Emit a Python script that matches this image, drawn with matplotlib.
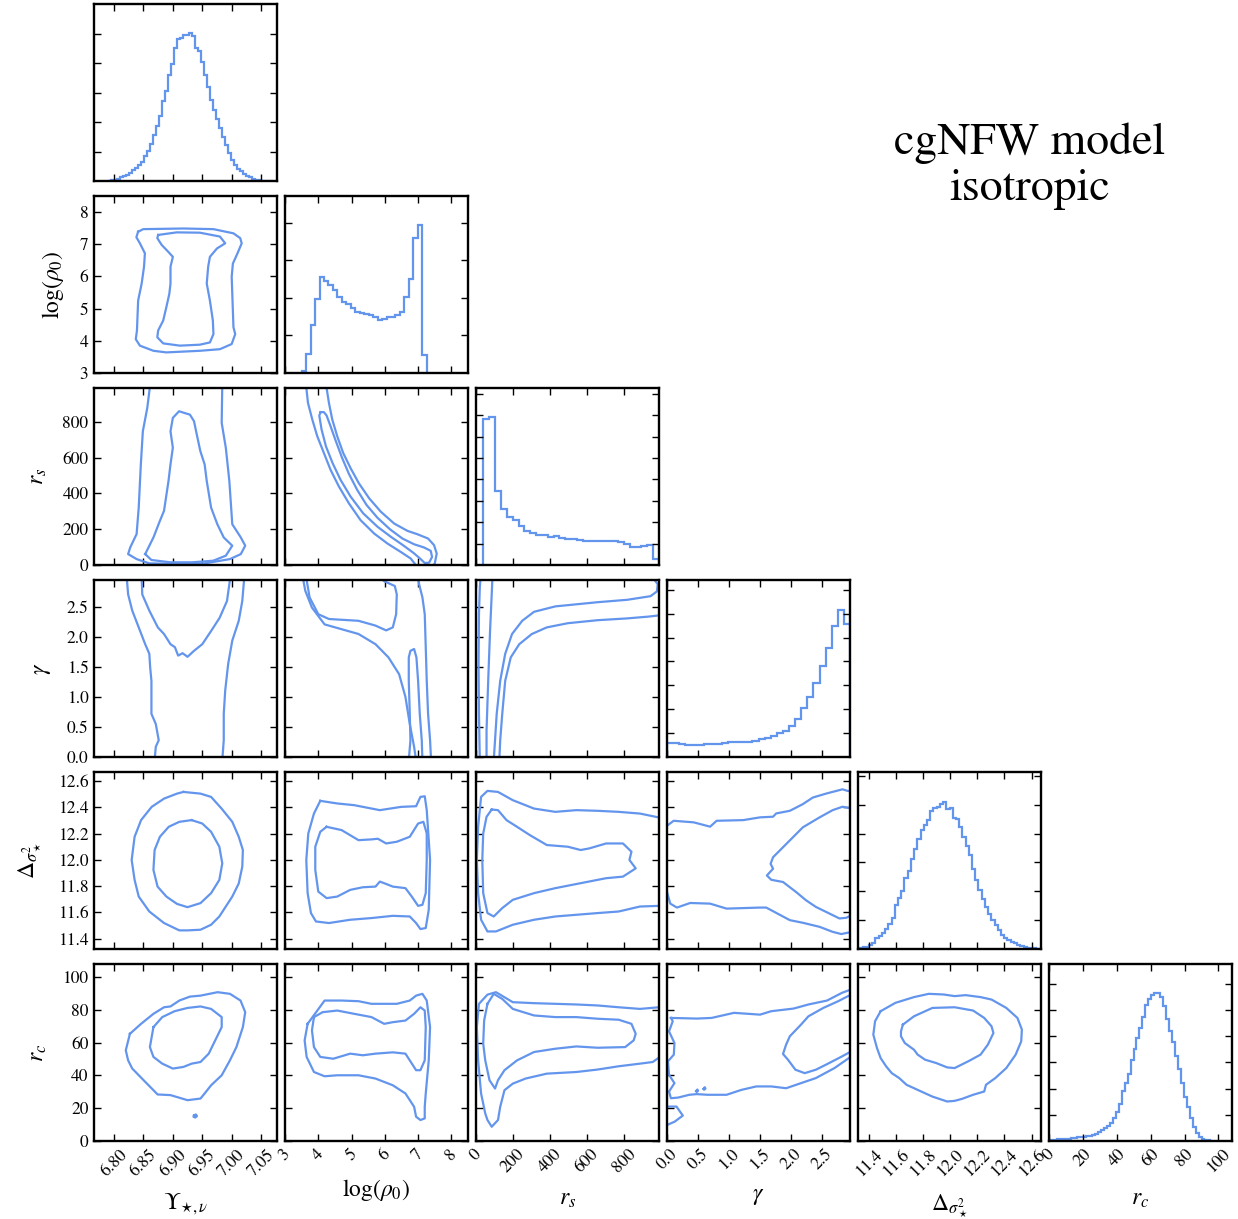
import numpy as np
import matplotlib
matplotlib.use("Agg")
import matplotlib.pyplot as plt

plt.rcParams['font.family'] = ['STIXGeneral', 'DejaVu Serif']
plt.rcParams['mathtext.fontset'] = 'stix'

# parameter names, ranges and ticks
labels = [r'$\Upsilon_{\star,\nu}$', r'$\log(\rho_0)$', r'$r_s$', r'$\gamma$',
          r'$\Delta_{\sigma_\star^2}$', r'$r_c$']
limits = [(6.766, 7.077), (3.0, 8.5), (0.0, 990.0), (0.0, 2.95), (11.32, 12.67), (0.0, 108.0)]
ticks = [[6.80, 6.85, 6.90, 6.95, 7.00, 7.05],
         [3, 4, 5, 6, 7, 8],
         [0, 200, 400, 600, 800],
         [0.0, 0.5, 1.0, 1.5, 2.0, 2.5],
         [11.4, 11.6, 11.8, 12.0, 12.2, 12.4, 12.6],
         [0, 20, 40, 60, 80, 100]]
tick_text = [['6.80', '6.85', '6.90', '6.95', '7.00', '7.05'],
             ['3', '4', '5', '6', '7', '8'],
             ['0', '200', '400', '600', '800'],
             ['0.0', '0.5', '1.0', '1.5', '2.0', '2.5'],
             ['11.4', '11.6', '11.8', '12.0', '12.2', '12.4', '12.6'],
             ['0', '20', '40', '60', '80', '100']]

# 1D marginals (relative heights) and their bin ranges
hist_ups = [0.002, 0.004, 0.008, 0.013, 0.02, 0.027, 0.036, 0.048, 0.06, 0.073,
            0.093, 0.11, 0.14, 0.17, 0.21, 0.26, 0.31, 0.37, 0.45, 0.51,
            0.60, 0.66, 0.75, 0.80, 0.81, 0.825, 0.826, 0.838, 0.82, 0.75,
            0.735, 0.67, 0.60, 0.53, 0.46, 0.40, 0.35, 0.30, 0.25, 0.205,
            0.16, 0.12, 0.09, 0.07, 0.055, 0.04, 0.03, 0.02, 0.013, 0.008,
            0.004, 0.002, 0.001, 0.0005, 0.0]
hist_rho = [0.01, 0.11, 0.27, 0.42, 0.54, 0.52, 0.50, 0.47, 0.43, 0.40,
            0.39, 0.37, 0.345, 0.34, 0.333, 0.328, 0.317, 0.298, 0.306, 0.315,
            0.315, 0.326, 0.345, 0.43, 0.53, 0.765, 0.838, 0.10]
hist_rs = [0.826, 0.835, 0.418, 0.319, 0.272, 0.253, 0.221, 0.193, 0.178, 0.171,
           0.171, 0.156, 0.163, 0.152, 0.148, 0.148, 0.141, 0.137, 0.137, 0.133,
           0.133, 0.133, 0.133, 0.129, 0.118, 0.103, 0.099, 0.107, 0.111, 0.034]
hist_gamma = [0.079, 0.079, 0.075, 0.068, 0.068, 0.068, 0.071, 0.071, 0.075, 0.079,
              0.083, 0.086, 0.086, 0.086, 0.090, 0.101, 0.105, 0.117, 0.135, 0.147,
              0.177, 0.214, 0.278, 0.338, 0.417, 0.513, 0.615, 0.741, 0.833, 0.752]
hist_delta = [0.007, 0.01, 0.014, 0.022, 0.033, 0.06, 0.074, 0.088, 0.115, 0.142,
              0.177, 0.25, 0.29, 0.33, 0.40, 0.44, 0.51, 0.565, 0.62, 0.675,
              0.70, 0.73, 0.78, 0.795, 0.805, 0.82, 0.833, 0.79, 0.796, 0.742,
              0.733, 0.69, 0.63, 0.58, 0.53, 0.45, 0.39, 0.335, 0.28, 0.235,
              0.20, 0.163, 0.135, 0.108, 0.08, 0.062, 0.052, 0.042, 0.034, 0.024,
              0.017, 0.012, 0.008, 0.006, 0.004, 0.002]
hist_rc = [0.007, 0.008, 0.009, 0.009, 0.01, 0.012, 0.013, 0.015, 0.017, 0.02,
           0.022, 0.025, 0.028, 0.031, 0.036, 0.042, 0.05, 0.06, 0.071, 0.085,
           0.10, 0.13, 0.165, 0.21, 0.28, 0.33, 0.38, 0.46, 0.52, 0.58,
           0.64, 0.70, 0.77, 0.80, 0.825, 0.835, 0.838, 0.815, 0.76, 0.69,
           0.62, 0.56, 0.48, 0.405, 0.33, 0.25, 0.19, 0.13, 0.08, 0.045,
           0.022, 0.01, 0.006, 0.003, 0.002]
hists = [hist_ups, hist_rho, hist_rs, hist_gamma, hist_delta, hist_rc]
hist_range = [(6.79, 7.07), (3.5, 7.26), (40.0, 990.0), (0.0, 2.95), (11.33, 12.66), (1.0, 97.0)]
hist_tick_step = [0.166, 0.2125, 0.1208, 0.135, 0.163, 0.148]
hist_tick_count = [5, 4, 8, 7, 6, 6]

# 2D credible contours (outer, inner), in data units
rho_ups_outer = [(6.841, 7.39), (6.8497, 7.47), (6.918, 7.49), (6.969, 7.47), (7.003, 7.34),
                 (7.0145, 7.19), (7.017, 7.03), (7.0099, 6.72), (7.002, 6.40), (7.000, 5.99),
                 (7.0014, 5.25), (7.003, 4.42), (7.006, 4.21), (7.000, 3.90), (6.980, 3.74),
                 (6.946, 3.69), (6.889, 3.64), (6.867, 3.69), (6.844, 3.85), (6.837, 4.05),
                 (6.839, 4.32), (6.841, 5.25), (6.847, 5.78), (6.851, 6.30), (6.8525, 6.72),
                 (6.844, 7.03), (6.838, 7.22), (6.841, 7.39)]
rho_ups_inner = [(6.875, 7.29), (6.9066, 7.37), (6.946, 7.36), (6.980, 7.24), (6.989, 7.03),
                 (6.975, 6.87), (6.963, 6.61), (6.960, 6.30), (6.9576, 5.78), (6.963, 5.25),
                 (6.968, 4.63), (6.969, 4.21), (6.963, 3.95), (6.946, 3.88), (6.912, 3.85),
                 (6.8836, 3.92), (6.8736, 4.11), (6.875, 4.32), (6.8836, 4.63), (6.889, 5.05),
                 (6.894, 5.46), (6.896, 5.78), (6.896, 6.30), (6.900, 6.61), (6.892, 6.77),
                 (6.881, 6.98), (6.8736, 7.19), (6.875, 7.29)]

rs_ups_outer = [(6.8615, 1010), (6.8565, 878), (6.849, 748), (6.8456, 563), (6.842, 321),
                (6.8384, 173), (6.8275, 98), (6.824, 61), (6.8384, 33), (6.860, 9),
                (6.9106, 6), (6.954, 9), (6.997, 33), (7.0155, 61), (7.023, 108),
                (7.0155, 154), (7.001, 228), (6.996, 470), (6.990, 656), (6.983, 795),
                (6.984, 1010)]
rs_ups_inner = [(6.853, 61), (6.867, 154), (6.878, 247), (6.885, 303), (6.8926, 470),
                (6.896, 563), (6.900, 656), (6.896, 748), (6.900, 823), (6.9106, 860),
                (6.919, 851), (6.929, 841), (6.936, 804), (6.9395, 748), (6.9467, 637),
                (6.954, 563), (6.9576, 470), (6.965, 321), (6.9756, 228), (6.9865, 154),
                (7.001, 108), (6.990, 52), (6.9685, 24), (6.9324, 15), (6.896, 15),
                (6.8636, 28), (6.853, 61)]

rs_rho_outer = [(3.63, 1011), (3.69, 907), (3.82, 814), (3.97, 720), (4.17, 626),
                (4.37, 532), (4.62, 439), (4.92, 345), (5.27, 251), (5.68, 176),
                (6.08, 120), (6.48, 73), (6.78, 36), (6.93, 0), (6.98, -21),
                (7.28, -30), (7.50, 7.5), (7.56, 64), (7.48, 111), (7.30, 148),
                (6.98, 172), (6.68, 191), (6.28, 232), (5.88, 298), (5.53, 373),
                (5.22, 457), (4.97, 542), (4.75, 626), (4.57, 720), (4.42, 814),
                (4.32, 907), (4.25, 990), (4.24, 1011)]
rs_rho_inner = [(4.07, 855), (4.03, 836), (4.10, 757), (4.23, 664), (4.43, 570),
                (4.67, 476), (4.97, 383), (5.35, 289), (5.78, 214), (6.18, 158),
                (6.56, 109), (6.86, 68), (7.06, 36), (7.20, 11), (7.33, 13),
                (7.42, 45), (7.38, 79), (7.18, 98), (6.88, 116), (6.53, 148),
                (6.16, 199), (5.78, 264), (5.45, 336), (5.17, 420), (4.92, 510),
                (4.71, 602), (4.53, 692), (4.37, 776), (4.25, 836), (4.17, 855),
                (4.07, 855)]

gam_ups_outer = [(6.821, 3.005), (6.822, 2.95), (6.824, 2.71), (6.831, 2.44), (6.842, 2.16),
                 (6.853, 1.88), (6.860, 1.72), (6.8615, 1.49), (6.8636, 1.27), (6.8636, 0.72),
                 (6.871, 0.55), (6.876, 0.28), (6.871, 0.17), (6.869, -0.055),
                 (6.984, -0.055), (6.9865, 0.28), (6.9865, 0.72), (6.989, 1.11), (6.994, 1.55),
                 (7.001, 1.94), (7.012, 2.27), (7.018, 2.60), (7.021, 2.95), (7.021, 3.005)]
gam_ups_inner = [(6.847, 3.005), (6.848, 2.71), (6.860, 2.44), (6.8745, 2.16), (6.885, 2.05),
                 (6.896, 1.88), (6.9035, 1.83), (6.909, 1.69), (6.9165, 1.73), (6.925, 1.67),
                 (6.936, 1.77), (6.950, 1.88), (6.965, 2.10), (6.9795, 2.32), (6.992, 2.60),
                 (6.997, 2.95), (6.997, 3.005)]

gam_rho_outer = [(3.54, 3.005), (3.55, 2.95), (3.61, 2.77), (3.81, 2.49), (4.19, 2.21),
                 (4.70, 2.13), (5.21, 2.05), (5.72, 1.88), (6.11, 1.66), (6.43, 1.38),
                 (6.62, 1.00), (6.75, 0.55), (6.88, 0.17), (6.94, -0.055),
                 (7.39, -0.055), (7.36, 0.28), (7.30, 0.72), (7.26, 1.27), (7.23, 1.83),
                 (7.20, 2.38), (7.13, 2.66), (7.03, 2.88), (7.00, 3.005)]
gam_rho_inner_top = [(3.63, 3.005), (3.65, 2.95), (3.74, 2.66), (4.00, 2.38), (4.32, 2.30),
                     (5.21, 2.27), (5.72, 2.19), (6.04, 2.11), (6.24, 2.16), (6.34, 2.38),
                     (6.36, 2.71), (6.30, 2.85), (5.98, 2.93), (5.85, 3.005)]
gam_rho_inner_low = [(6.72, -0.055), (6.77, 0.28), (6.75, 0.72), (6.72, 1.27), (6.72, 1.66),
                     (6.77, 1.77), (6.88, 1.80), (6.95, 1.66), (7.00, 1.27), (7.05, 0.72),
                     (7.11, 0.28), (7.13, -0.055)]

gam_rs_outer = [(20.6, -0.055), (16.0, 0.72), (13.8, 1.55), (16.0, 2.38), (20.6, 2.82),
                (25.2, 3.005), (1024, 3.005), (1024, 2.35), (990, 2.36), (933, 2.34),
                (818, 2.31), (658, 2.28), (497, 2.23), (383, 2.16), (302, 2.05),
                (234, 1.88), (188, 1.66), (158, 1.27), (142, 0.72), (131, 0.28), (126, -0.055)]
gam_rs_inner = [(57, -0.055), (57, 0.44), (66, 1.27), (76, 2.10), (85, 2.71), (89, 3.005),
                (956, 2.99), (983, 2.88), (979, 2.76), (944, 2.68), (818, 2.62),
                (658, 2.58), (429, 2.51), (314, 2.42), (250, 2.27), (195, 2.05),
                (158, 1.72), (131, 1.27), (112, 0.72), (103, 0.28), (96, -0.055)]

del_ups_outer = [(6.918, 12.518), (6.947, 12.505), (6.965, 12.48), (6.983, 12.39), (7.001, 12.29),
                 (7.012, 12.176), (7.019, 12.075), (7.018, 11.948), (7.012, 11.82), (7.001, 11.72),
                 (6.990, 11.644), (6.979, 11.568), (6.965, 11.505), (6.947, 11.467), (6.925, 11.462),
                 (6.911, 11.462), (6.885, 11.518), (6.860, 11.606), (6.842, 11.72), (6.835, 11.847),
                 (6.830, 11.999), (6.835, 12.176), (6.846, 12.303), (6.864, 12.404), (6.885, 12.467),
                 (6.907, 12.505), (6.918, 12.518)]
del_ups_inner = [(6.932, 12.303), (6.950, 12.277), (6.965, 12.214), (6.979, 12.10), (6.984, 11.973),
                 (6.979, 11.847), (6.965, 11.746), (6.947, 11.67), (6.925, 11.639), (6.907, 11.664),
                 (6.889, 11.72), (6.874, 11.796), (6.867, 11.923), (6.869, 12.075), (6.878, 12.176),
                 (6.893, 12.252), (6.911, 12.29), (6.932, 12.303)]

del_rho_outer = [(4.06, 12.45), (4.57, 12.43), (5.08, 12.417), (5.85, 12.379), (6.49, 12.404),
                 (6.94, 12.409), (7.07, 12.48), (7.20, 12.485), (7.26, 12.379), (7.36, 11.999),
                 (7.32, 11.619), (7.23, 11.48), (7.07, 11.472), (6.94, 11.518), (6.75, 11.568),
                 (6.24, 11.573), (5.60, 11.556), (4.96, 11.543), (4.32, 11.518), (3.93, 11.53),
                 (3.78, 11.594), (3.68, 11.746), (3.64, 11.999), (3.70, 12.201), (3.87, 12.353),
                 (4.06, 12.45)]
del_rho_inner = [(4.25, 12.252), (4.70, 12.227), (5.21, 12.15), (5.60, 12.156), (5.79, 12.161),
                 (6.04, 12.125), (6.36, 12.138), (6.75, 12.176), (7.00, 12.277), (7.16, 12.29),
                 (7.26, 12.201), (7.26, 11.999), (7.23, 11.746), (7.13, 11.657), (7.00, 11.649),
                 (6.81, 11.72), (6.62, 11.784), (6.24, 11.796), (5.98, 11.822), (5.85, 11.834),
                 (5.72, 11.796), (5.34, 11.791), (4.96, 11.771), (4.57, 11.72), (4.25, 11.708),
                 (4.00, 11.758), (3.91, 11.923), (3.91, 12.10), (4.06, 12.214), (4.25, 12.252)]

del_rs_outer = [(1013, 12.323), (990, 12.323), (887, 12.353), (772, 12.366), (658, 12.374),
                (543, 12.379), (429, 12.366), (314, 12.391), (199, 12.455), (119, 12.518),
                (62, 12.526), (27.5, 12.48), (11.5, 12.252), (4.6, 11.999), (11.5, 11.746),
                (27.5, 11.543), (62, 11.454), (108, 11.454), (199, 11.505), (314, 11.543),
                (429, 11.568), (543, 11.581), (658, 11.594), (772, 11.606), (887, 11.644),
                (990, 11.649), (1013, 11.649)]
del_rs_inner = [(85, 12.384), (119, 12.379), (165, 12.303), (222, 12.252), (291, 12.189),
                (383, 12.113), (497, 12.10), (566, 12.075), (612, 12.087), (704, 12.125),
                (795, 12.125), (841, 12.062), (830, 11.999), (864, 11.935), (795, 11.872),
                (704, 11.86), (566, 11.822), (429, 11.784), (314, 11.746), (199, 11.695),
                (142, 11.632), (96, 11.568), (62, 11.594), (39, 11.746), (34, 11.999),
                (39, 12.201), (57, 12.328), (85, 12.384)]

del_gam_outer = [(-0.053, 12.26), (0, 12.26), (0.107, 12.298), (0.43, 12.286), (0.695, 12.253),
                 (0.80, 12.298), (1.23, 12.303), (1.50, 12.324), (1.71, 12.329), (1.76, 12.354),
                 (1.98, 12.374), (2.19, 12.425), (2.35, 12.475), (2.57, 12.506), (2.83, 12.538),
                 (2.91, 12.526), (3.02, 12.52), (3.02, 11.451), (2.91, 11.444), (2.81, 11.434),
                 (2.67, 11.451), (2.46, 11.489), (2.19, 11.52), (1.98, 11.54), (1.60, 11.636),
                 (1.50, 11.636), (0.96, 11.628), (0.695, 11.666), (0.374, 11.671), (0.16, 11.636),
                 (0.053, 11.666), (0, 11.755), (-0.053, 11.767)]
del_gam_inner = [(3.02, 12.387), (2.83, 12.405), (2.67, 12.379), (2.46, 12.324), (2.19, 12.248),
                 (2.03, 12.172), (1.87, 12.096), (1.71, 12.02), (1.67, 11.97), (1.71, 11.932),
                 (1.61, 11.881), (1.68, 11.848), (1.87, 11.831), (2.08, 11.755), (2.24, 11.692),
                 (2.40, 11.641), (2.62, 11.59), (2.78, 11.553), (2.89, 11.558), (3.02, 11.59)]

rc_ups_outer = [(6.827, 65.4), (6.846, 71.5), (6.867, 77.6), (6.885, 81.6), (6.896, 82.1),
                (6.911, 85.7), (6.929, 88.1), (6.947, 88.7), (6.976, 90.8), (6.997, 89.8),
                (7.015, 85.7), (7.023, 78.6), (7.019, 69.5), (7.008, 57.3), (6.997, 49.2),
                (6.983, 40.1), (6.965, 34.0), (6.954, 29.0), (6.947, 25.9), (6.925, 24.9),
                (6.896, 28.0), (6.874, 28.4), (6.867, 31.0), (6.853, 36.1), (6.831, 44.2),
                (6.824, 49.2), (6.820, 55.3), (6.827, 65.4)]
rc_ups_inner = [(6.867, 69.5), (6.882, 75.6), (6.903, 79.2), (6.925, 81.2), (6.947, 82.1),
                (6.965, 80.6), (6.983, 75.6), (6.983, 69.5), (6.972, 61.4), (6.961, 53.3),
                (6.947, 48.2), (6.932, 47.2), (6.918, 45.2), (6.900, 44.2), (6.882, 47.2),
                (6.867, 51.3), (6.861, 57.3), (6.864, 63.4), (6.867, 69.5)]
rc_ups_dot = [(6.936, 15.6), (6.939, 16.2), (6.941, 15.2), (6.938, 14.3), (6.935, 14.8), (6.936, 15.6)]

rc_rho_outer = [(3.68, 71.5), (4.19, 85.7), (4.70, 85.7), (5.21, 85.3), (5.60, 83.7),
                (6.36, 83.7), (6.75, 85.7), (6.94, 88.7), (7.13, 89.8), (7.26, 85.7),
                (7.36, 69.5), (7.32, 49.2), (7.23, 29.0), (7.20, 20.9), (7.20, 13.8),
                (7.07, 12.8), (6.94, 14.8), (6.88, 20.9), (6.62, 29.0), (6.24, 34.0),
                (5.72, 38.1), (5.21, 40.1), (4.57, 40.1), (4.19, 39.5), (3.87, 42.1),
                (3.65, 51.3), (3.59, 61.4), (3.68, 71.5)]
rc_rho_inner = [(3.87, 75.6), (4.13, 78.6), (4.57, 79.6), (5.08, 77.6), (5.60, 75.6),
                (5.98, 71.5), (6.24, 72.5), (6.62, 73.5), (6.88, 77.6), (7.07, 81.6),
                (7.20, 79.6), (7.23, 69.5), (7.20, 49.2), (7.07, 43.2), (6.94, 43.2),
                (6.75, 49.2), (6.62, 53.3), (6.24, 54.1), (5.72, 53.3), (5.34, 52.3),
                (4.96, 53.3), (4.45, 50.2), (4.06, 51.3), (3.87, 57.3), (3.81, 67.5),
                (3.87, 75.6)]

rc_rs_outer = [(1013, 81.6), (990, 81.6), (887, 80.6), (772, 81.6), (658, 82.7),
               (543, 83.3), (429, 83.7), (314, 84.1), (199, 84.7), (108, 90.8),
               (62, 89.3), (16, 83.7), (4.6, 69.5), (11.5, 49.2), (27.5, 29.0),
               (50, 16.8), (62, 12.8), (85, 8.7), (119, 12.8), (131, 20.9),
               (154, 31.0), (199, 35.0), (268, 38.1), (383, 41.1), (543, 42.1),
               (658, 43.6), (772, 45.6), (887, 47.2), (956, 48.2), (990, 50.9), (1013, 52.3)]
rc_rs_inner = [(62, 83.7), (96, 89.8), (142, 86.7), (199, 80.6), (314, 76.6),
               (429, 75.6), (543, 75.6), (658, 74.6), (772, 74.0), (841, 71.5),
               (864, 65.4), (853, 61.4), (807, 57.3), (658, 56.9), (543, 57.7),
               (429, 56.3), (314, 54.3), (222, 49.2), (154, 43.2), (119, 37.1),
               (103, 32.0), (73, 37.1), (50, 49.2), (39, 59.4), (44, 73.5), (62, 83.7)]

rc_gam_outer = [(0.063, 75.1), (0.482, 74.7), (0.72, 75.1), (1.08, 78.2), (1.50, 77.1),
                (1.68, 79.2), (2.04, 80.8), (2.28, 83.3), (2.58, 85.7), (2.82, 90.4),
                (2.97, 92.5), (3.03, 93.5), (3.03, 51.0), (2.97, 51.6), (2.70, 44.5),
                (2.40, 38.4), (2.16, 35.3), (1.92, 32.2), (1.68, 33.3), (1.44, 33.3),
                (1.20, 31.2), (0.96, 28.2), (0.66, 28.2), (0.48, 28.6), (0.36, 28.2),
                (0.18, 26.5), (0.063, 26.1), (0.033, 30.2), (0.12, 35.3), (0.033, 40.4),
                (0.015, 48.6), (0.11, 52.7), (0.12, 59.8), (0.033, 66.9), (0.093, 73.1),
                (0.063, 75.1)]
rc_gam_inner = [(3.03, 89.8), (2.97, 89.4), (2.76, 85.3), (2.52, 81.2), (2.28, 76.1),
                (2.16, 71.0), (1.98, 63.9), (1.92, 58.8), (1.87, 53.1), (1.95, 49.6),
                (2.07, 43.5), (2.22, 41.4), (2.40, 43.5), (2.58, 46.9), (2.82, 51.6),
                (2.97, 54.7), (3.03, 55.7)]
rc_gam_blob = [(-0.057, 21.0), (0.003, 21.0), (0.153, 21.0), (0.255, 15.5), (0.123, 11.8),
               (0.003, 9.8), (-0.057, 9.8)]
rc_gam_dot1 = [(0.47, 30.4), (0.49, 31.4), (0.50, 30.6), (0.48, 29.9), (0.47, 30.4)]
rc_gam_dot2 = [(0.59, 31.8), (0.61, 32.8), (0.62, 32.0), (0.60, 31.3), (0.59, 31.8)]

rc_del_outer = [(11.487, 79.2), (11.596, 84.3), (11.733, 87.8), (11.842, 89.8), (11.951, 89.4),
                (12.033, 88.4), (12.114, 89.0), (12.224, 87.8), (12.305, 86.3), (12.414, 81.2),
                (12.496, 75.1), (12.529, 68.0), (12.524, 60.8), (12.483, 52.7), (12.414, 44.5),
                (12.333, 38.4), (12.264, 34.3), (12.251, 30.2), (12.169, 28.2), (12.087, 25.7),
                (12.033, 24.5), (11.978, 24.1), (11.869, 27.1), (11.76, 31.2), (11.678, 34.3),
                (11.624, 38.4), (11.569, 41.4), (11.528, 45.5), (11.487, 50.6), (11.46, 56.7),
                (11.433, 64.9), (11.446, 73.1), (11.487, 79.2)]
rc_del_inner = [(11.651, 71.0), (11.733, 76.1), (11.869, 81.2), (12.033, 81.6), (12.169, 79.6),
                (12.251, 75.1), (12.305, 70.0), (12.319, 65.9), (12.278, 58.8), (12.224, 52.7),
                (12.142, 49.0), (12.033, 44.5), (11.978, 44.9), (11.896, 47.6), (11.815, 49.6),
                (11.76, 52.7), (11.733, 55.7), (11.665, 59.8), (11.637, 63.9), (11.637, 66.9),
                (11.651, 71.0)]

# (row, column) -> curves
contours = {
    (1, 0): [rho_ups_outer, rho_ups_inner],
    (2, 0): [rs_ups_outer, rs_ups_inner],
    (2, 1): [rs_rho_outer, rs_rho_inner],
    (3, 0): [gam_ups_outer, gam_ups_inner],
    (3, 1): [gam_rho_outer, gam_rho_inner_top, gam_rho_inner_low],
    (3, 2): [gam_rs_outer, gam_rs_inner],
    (4, 0): [del_ups_outer, del_ups_inner],
    (4, 1): [del_rho_outer, del_rho_inner],
    (4, 2): [del_rs_outer, del_rs_inner],
    (4, 3): [del_gam_outer, del_gam_inner],
    (5, 0): [rc_ups_outer, rc_ups_inner, rc_ups_dot],
    (5, 1): [rc_rho_outer, rc_rho_inner],
    (5, 2): [rc_rs_outer, rc_rs_inner],
    (5, 3): [rc_gam_outer, rc_gam_inner, rc_gam_blob, rc_gam_dot1, rc_gam_dot2],
    (5, 4): [rc_del_outer, rc_del_inner],
}

line_color = '#6495ED'
W, H = 1238, 1219
fig = plt.figure(figsize=(W / 100, H / 100), dpi=100)
n = len(labels)


def style_axis(ax):
    for s in ax.spines.values():
        s.set_linewidth(1.7)
    ax.tick_params(direction='in', top=True, right=True, length=5, width=1,
                   labelsize=12.5, pad=4)


for i in range(n):
    for j in range(i + 1):
        left = (94 + 191 * j) / W
        bottom = 1 - (4 + 192 * i + 177) / H
        ax = fig.add_axes([left, bottom, 183 / W, 177 / H])
        style_axis(ax)
        ax.set_xlim(*limits[j])
        ax.set_xticks(ticks[j])
        if i == j:
            # marginal histogram
            edges = np.linspace(hist_range[i][0], hist_range[i][1], len(hists[i]) + 1)
            ax.stairs(hists[i], edges, color=line_color, lw=1.6)
            ax.set_ylim(0, 1)
            ax.set_yticks(hist_tick_step[i] * np.arange(1, hist_tick_count[i] + 1))
            ax.set_yticklabels([])
        else:
            for path in contours[(i, j)]:
                xs, ys = zip(*path)
                ax.plot(xs, ys, color=line_color, lw=1.6)
            ax.set_ylim(*limits[i])
            ax.set_yticks(ticks[i])
            if j == 0:
                ax.set_yticklabels(tick_text[i])
                ax.set_ylabel(labels[i], fontsize=17, labelpad=10)
            else:
                ax.set_yticklabels([])
        if i == n - 1:
            ax.set_xticklabels(tick_text[j], rotation=45)
            ax.set_xlabel(labels[j], fontsize=17, labelpad=9)
        else:
            ax.set_xticklabels([])

fig.text(1030 / W, 1 - 166 / H, 'cgNFW model\nisotropic', ha='center', va='center',
         fontsize=33, linespacing=1.15)

fig.savefig('out.png', dpi=100)
